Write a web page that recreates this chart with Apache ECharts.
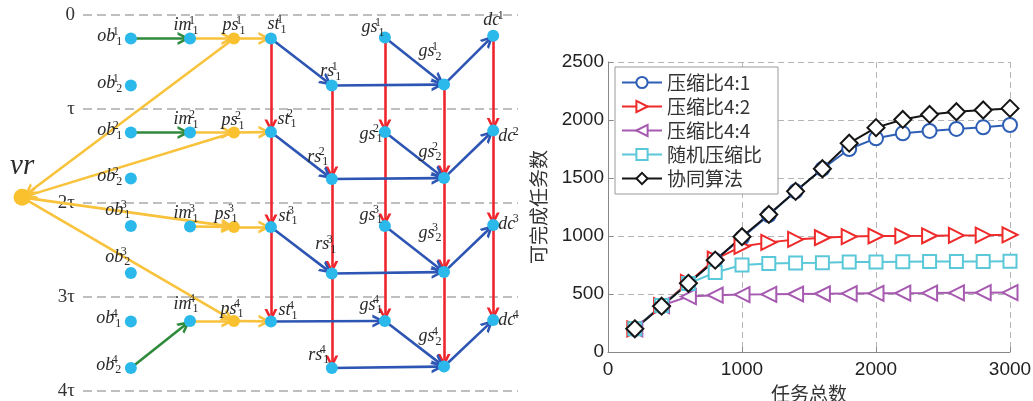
<!DOCTYPE html>
<html>
<head>
<meta charset="utf-8">
<script src="https://cdn.jsdelivr.net/npm/echarts/dist/echarts.min.js"></script>
<style>
  html, body { margin: 0; padding: 0; background: #fff; }
  #main { width: 1033px; height: 401px; }
</style>
</head>
<body>
<div id="main"></div>
<script>
// ---- left: schedule diagram ----
// time slot labels on the dashed lines
const slotTicks = ['0', 'τ', '2τ', '3τ', '4τ'];

// [id, column, slot position (in τ), base, subscript, superscript]
const nodes = [
  ['vr', -14, 1.94, 'vr', '', ''],
  ['ob1_1', 11, 0.25, 'ob', '1', '1'],
  ['ob2_1', 11, 0.75, 'ob', '2', '1'],
  ['im_1', 24.6, 0.25, 'im', '1', '1'],
  ['ps_1', 34.7, 0.25, 'ps', '1', '1'],
  ['st_1', 43.2, 0.25, 'st', '1', '1'],
  ['rs_1', 57.2, 0.75, 'rs', '1', '1'],
  ['gs1_1', 69.4, 0.24, 'gs', '1', '1'],
  ['gs2_1', 83.0, 0.74, 'gs', '2', '1'],
  ['dc_1', 94.3, 0.22, 'dc', '', '1'],
  ['ob1_2', 11, 1.25, 'ob', '1', '2'],
  ['ob2_2', 11, 1.74, 'ob', '2', '2'],
  ['im_2', 24.6, 1.25, 'im', '1', '2'],
  ['ps_2', 34.7, 1.25, 'ps', '1', '2'],
  ['st_2', 43.2, 1.245, 'st', '1', '2'],
  ['rs_2', 57.2, 1.745, 'rs', '1', '2'],
  ['gs1_2', 69.4, 1.245, 'gs', '1', '2'],
  ['gs2_2', 83.0, 1.735, 'gs', '2', '2'],
  ['dc_2', 94.3, 1.23, 'dc', '', '2'],
  ['ob1_3', 11, 2.245, 'ob', '1', '3'],
  ['ob2_3', 11, 2.745, 'ob', '2', '3'],
  ['im_3', 24.6, 2.25, 'im', '1', '3'],
  ['ps_3', 34.7, 2.255, 'ps', '1', '3'],
  ['st_3', 43.2, 2.255, 'st', '1', '3'],
  ['rs_3', 57.2, 2.75, 'rs', '1', '3'],
  ['gs1_3', 69.4, 2.245, 'gs', '1', '3'],
  ['gs2_3', 83.0, 2.735, 'gs', '2', '3'],
  ['dc_3', 94.3, 2.235, 'dc', '', '3'],
  ['ob1_4', 11, 3.26, 'ob', '1', '4'],
  ['ob2_4', 11, 3.755, 'ob', '2', '4'],
  ['im_4', 24.6, 3.255, 'im', '1', '4'],
  ['ps_4', 34.7, 3.255, 'ps', '1', '4'],
  ['st_4', 43.2, 3.26, 'st', '1', '4'],
  ['rs_4', 57.2, 3.755, 'rs', '1', '4'],
  ['gs1_4', 69.4, 3.255, 'gs', '1', '4'],
  ['gs2_4', 83.0, 3.74, 'gs', '2', '4'],
  ['dc_4', 94.3, 3.245, 'dc', '', '4']
];

// [from, to, kind]  g=green y=yellow r=red b=blue
const edges = [
  ['ob1_1', 'im_1', 'g'], ['ob1_2', 'im_2', 'g'], ['ob2_4', 'im_4', 'g'],
  ['im_1', 'ps_1', 'y'], ['ps_1', 'st_1', 'y'],
  ['im_2', 'ps_2', 'y'], ['ps_2', 'st_2', 'y'],
  ['im_3', 'ps_3', 'y'], ['ps_3', 'st_3', 'y'],
  ['im_4', 'ps_4', 'y'], ['ps_4', 'st_4', 'y'],
  ['ps_1', 'vr', 'y'], ['ps_2', 'vr', 'y'], ['vr', 'ps_3', 'y'], ['vr', 'ps_4', 'y'],
  ['st_1', 'st_2', 'r'], ['st_2', 'st_3', 'r'], ['st_3', 'st_4', 'r'],
  ['rs_1', 'rs_2', 'r'], ['rs_2', 'rs_3', 'r'], ['rs_3', 'rs_4', 'r'],
  ['gs1_1', 'gs1_2', 'r'], ['gs1_2', 'gs1_3', 'r'], ['gs1_3', 'gs1_4', 'r'],
  ['gs2_1', 'gs2_2', 'r'], ['gs2_2', 'gs2_3', 'r'], ['gs2_3', 'gs2_4', 'r'],
  ['dc_1', 'dc_2', 'r'], ['dc_2', 'dc_3', 'r'], ['dc_3', 'dc_4', 'r'],
  ['st_1', 'rs_1', 'b'], ['st_2', 'rs_2', 'b'], ['st_3', 'rs_3', 'b'], ['st_4', 'gs1_4', 'b'],
  ['rs_1', 'gs2_1', 'b'], ['rs_2', 'gs2_2', 'b'], ['rs_3', 'gs2_3', 'b'], ['rs_4', 'gs2_4', 'b'],
  ['gs1_1', 'gs2_1', 'b'], ['gs1_2', 'gs2_2', 'b'], ['gs1_3', 'gs2_3', 'b'], ['gs1_4', 'gs2_4', 'b'],
  ['gs2_1', 'dc_1', 'b'], ['gs2_2', 'dc_2', 'b'], ['gs2_3', 'dc_3', 'b'], ['gs2_4', 'dc_4', 'b']
];

// ---- right: line chart ----
const taskTotals = [200, 400, 600, 800, 1000, 1200, 1400, 1600, 1800, 2000, 2200, 2400, 2600, 2800, 3000];
const ratio41 = [200, 395, 590, 790, 985, 1180, 1385, 1578, 1750, 1842, 1885, 1906, 1923, 1937, 1957];
const ratio42 = [200, 400, 600, 800, 910, 945, 970, 985, 995, 1000, 1000, 1002, 1005, 1007, 1010];
const ratio44 = [200, 400, 478, 490, 495, 497, 500, 502, 504, 506, 507, 508, 510, 511, 512];
const randomRatio = [200, 400, 590, 685, 750, 763, 768, 770, 775, 776, 778, 780, 780, 781, 782];
const coopAlgo = [200, 395, 592, 792, 994, 1186, 1385, 1580, 1800, 1934, 2005, 2048, 2071, 2086, 2100];

// label offsets of the diagram nodes (px, centre of label block)
const labelOffset = {
  vr: [0, -31],
  ob1_1: [-21, -2], ob2_1: [-21, -2], ob1_2: [-21, -2], ob2_2: [-21, -2],
  ob1_3: [-13, -16], ob2_3: [-13, -16], ob1_4: [-22, -3], ob2_4: [-22, -3],
  im_1: [-4, -13], im_2: [-4, -13], im_3: [-4, -13], im_4: [-4, -17],
  ps_1: [0, -13], ps_2: [-1, -12], ps_3: [-8, -13], ps_4: [-2, -12],
  st_1: [6, -14], st_2: [16, -13], st_3: [17, -11], st_4: [17, -11],
  rs_1: [-1, -14], rs_2: [-14, -22], rs_3: [-6, -29], rs_4: [-13, -13],
  gs1_1: [-12, -10], gs1_2: [-14, 2], gs1_3: [-14, -11], gs1_4: [-14, -16],
  gs2_1: [-14, -33], gs2_2: [-14, -26], gs2_3: [-14, -39], gs2_4: [-14, -30],
  dc_1: [-1, -15], dc_2: [14, 6], dc_3: [14, -1], dc_4: [14, 0]
};

const edgeColor = { g: '#2f8a3c', y: '#f9c23c', r: '#f0262e', b: '#2d55b3' };
const chevron = 'path://M0,10 L5,0 L10,10 L7.8,10 L5,4.4 L2.2,10 Z';

function nodeLabel(n) {
  if (n[3] === 'vr') return '{v|vr}';
  let s = '{b|' + n[3] + '}{p|' + n[5] + '}';
  if (n[4]) s += '{s|' + n[4] + '}';
  return s;
}

const graphNodes = nodes.map(function (n) {
  const yellow = n[3] === 'ps' || n[3] === 'vr';
  return {
    name: n[0],
    value: [n[1], n[2]],
    symbolSize: n[3] === 'vr' ? 17 : 12,
    itemStyle: { color: yellow ? '#f8c12d' : '#2bb8ea' },
    label: { formatter: nodeLabel(n), offset: labelOffset[n[0]] }
  };
});

const graphLinks = edges.map(function (e) {
  return {
    source: e[0],
    target: e[1],
    lineStyle: { color: edgeColor[e[2]] }
  };
});

const serif = 'Liberation Serif';
const labelRich = {
  b: { fontFamily: serif, fontStyle: 'italic', fontSize: 18, lineHeight: 22, color: '#2a2a2a' },
  p: { fontFamily: serif, fontSize: 12, lineHeight: 12, verticalAlign: 'top', width: 1, color: '#2a2a2a' },
  s: { fontFamily: serif, fontSize: 12, lineHeight: 12, verticalAlign: 'bottom', color: '#2a2a2a' },
  v: { fontFamily: serif, fontStyle: 'italic', fontSize: 29, color: '#2a2a2a' }
};

function lineSeries(name, vals, color, symbol, size, rotate) {
  return {
    name: name,
    type: 'line',
    xAxisIndex: 0,
    yAxisIndex: 0,
    data: taskTotals.map(function (t, i) { return [t, vals[i]]; }),
    symbol: symbol,
    symbolSize: size,
    symbolRotate: rotate || 0,
    showAllSymbol: true,
    color: color,
    lineStyle: { color: color, width: 2 },
    itemStyle: { color: color, borderColor: color, borderWidth: 2 }
  };
}

const plain = function (v) { return String(v); };

const chart = echarts.init(document.getElementById('main'));
const option = {
  animation: false,
  backgroundColor: '#fff',
  legend: {
    orient: 'vertical',
    left: 615,
    top: 67,
    itemWidth: 40,
    itemHeight: 14,
    itemGap: 5,
    padding: [6, 16, 6, 6],
    borderColor: '#999',
    borderWidth: 1,
    borderRadius: 0,
    backgroundColor: '#fff',
    textStyle: { fontSize: 19, lineHeight: 19, color: '#333', fontFamily: 'Noto Sans CJK SC' },
    data: ['压缩比4:1', '压缩比4:2', '压缩比4:4', '随机压缩比', '协同算法']
  },
  grid: [
    { left: 608, right: 23, top: 62, bottom: 49, outerBoundsMode: 'none' },
    { left: 83, top: 15, width: 435, height: 376, outerBoundsMode: 'none' }
  ],
  xAxis: [
    {
      gridIndex: 0, type: 'value', min: 0, max: 3000, interval: 1000,
      name: '任务总数', nameLocation: 'middle', nameGap: 23,
      nameTextStyle: { fontSize: 19, color: '#333', fontFamily: 'Noto Sans CJK SC' },
      axisLine: { lineStyle: { color: '#888', width: 1 } },
      axisTick: { inside: true, length: 5, lineStyle: { color: '#888' } },
      axisLabel: { fontSize: 19, color: '#222', margin: 8, fontFamily: 'Liberation Sans', formatter: plain },
      splitLine: { show: true, lineStyle: { type: [6, 4], color: '#b5b5b5', width: 1 } }
    },
    { gridIndex: 1, type: 'value', min: 0, max: 100, show: false }
  ],
  yAxis: [
    {
      gridIndex: 0, type: 'value', min: 0, max: 2500, interval: 500,
      name: '可完成任务数', nameLocation: 'middle', nameRotate: 90, nameGap: 60,
      nameTextStyle: { fontSize: 19, color: '#333', fontFamily: 'Noto Sans CJK SC' },
      axisLine: { show: true, lineStyle: { color: '#888', width: 1 } },
      axisTick: { show: true, inside: true, length: 5, lineStyle: { color: '#888' } },
      axisLabel: { fontSize: 19, color: '#222', margin: 4, fontFamily: 'Liberation Sans', formatter: plain },
      splitLine: { show: true, lineStyle: { type: [6, 4], color: '#b5b5b5', width: 1 } }
    },
    {
      gridIndex: 1, type: 'value', min: 0, max: 4, interval: 1, inverse: true,
      axisLine: { show: false }, axisTick: { show: false },
      axisLabel: {
        formatter: function (v) { return slotTicks[v]; },
        fontFamily: serif, fontSize: 19, color: '#333', margin: 8
      },
      splitLine: { show: true, lineStyle: { type: [9, 5], color: '#ababab', width: 1.6 } }
    }
  ],
  series: [
    lineSeries('压缩比4:1', ratio41, '#2e5fb5', 'emptyCircle', 14),
    lineSeries('压缩比4:2', ratio42, '#ee2a2a', 'emptyTriangle', 15, -90),
    lineSeries('压缩比4:4', ratio44, '#a65ab0', 'emptyTriangle', 15, 90),
    lineSeries('随机压缩比', randomRatio, '#5ac8d8', 'emptyRect', 13),
    lineSeries('协同算法', coopAlgo, '#151515', 'emptyDiamond', 17),
    {
      type: 'graph',
      coordinateSystem: 'cartesian2d',
      xAxisIndex: 1,
      yAxisIndex: 1,
      silent: true,
      edgeSymbol: ['none', chevron],
      edgeSymbolSize: [0, 13],
      lineStyle: { width: 2.6, opacity: 1, curveness: 0 },
      label: { show: true, position: 'inside', rich: labelRich },
      data: graphNodes,
      links: graphLinks
    }
  ]
};
chart.setOption(option);
</script>
</body>
</html>
